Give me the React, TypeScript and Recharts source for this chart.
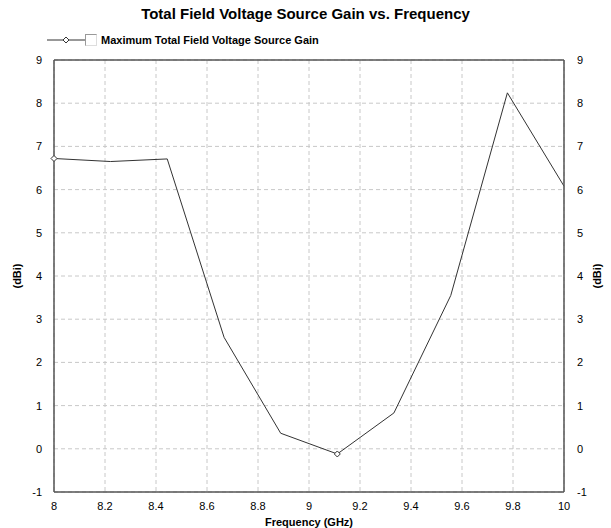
import { CartesianGrid, Line, LineChart, ReferenceLine, XAxis, YAxis } from "recharts";

const frequencies = [8, 8.222, 8.444, 8.667, 8.889, 9.111, 9.333, 9.556, 9.778, 10];
const gains = [6.72, 6.65, 6.71, 2.58, 0.36, -0.12, 0.83, 3.55, 8.24, 6.08];
const xTicks = [8, 8.2, 8.4, 8.6, 8.8, 9, 9.2, 9.4, 9.6, 9.8, 10];
const yTicks = [-1, 0, 1, 2, 3, 4, 5, 6, 7, 8, 9];
const markedPoints = [0, 5];

const data = frequencies.map((f, i) => ({ freq: f, gain: gains[i] }));

const font = "'Liberation Sans', Arial, sans-serif";
const tickStyle = { fontSize: 11, fill: "#000", fontFamily: font };
const frame = { stroke: "#555", strokeWidth: 1.5 };

const Diamond = ({ cx, cy }: { cx: number; cy: number }) => (
  <path
    d={`M${cx},${cy - 3}L${cx + 3},${cy}L${cx},${cy + 3}L${cx - 3},${cy}Z`}
    fill="#fff"
    stroke="#333"
    strokeWidth={1}
  />
);

const renderDot = (props: any) => {
  const { cx, cy, index } = props;
  if (!markedPoints.includes(index)) return <g key={index} />;
  return <Diamond key={index} cx={cx} cy={cy} />;
};

const ChartLegend = () => (
  <div
    style={{
      position: "absolute",
      top: 33,
      left: 47,
      display: "flex",
      alignItems: "center",
      fontFamily: font,
      fontSize: 11,
      fontWeight: "bold",
    }}
  >
    <svg width={40} height={14}>
      <line x1={0} y1={7} x2={38} y2={7} stroke="#333" strokeWidth={1} />
      <Diamond cx={19} cy={7} />
    </svg>
    <span
      style={{
        display: "inline-block",
        width: 10,
        height: 10,
        border: "1px solid #999",
        borderRight: "1px solid #ddd",
        borderBottom: "1px solid #ddd",
        marginRight: 4,
        marginLeft: -2,
      }}
    />
    <span>Maximum Total Field Voltage Source Gain</span>
  </div>
);

const YLabel = ({ x }: { x: number }) => (props: any) => {
  const vb = props.viewBox;
  const cy = vb.y + vb.height / 2;
  return (
    <text
      x={x}
      y={cy}
      transform={`rotate(-90 ${x} ${cy})`}
      textAnchor="middle"
      dominantBaseline="central"
      style={{ fontSize: 11, fontWeight: "bold", fontFamily: font, fill: "#000" }}
    >
      (dBi)
    </text>
  );
};

export default function App() {
  return (
    <div style={{ position: "absolute", left: 0, top: 0, width: 611, height: 528, background: "#fff" }}>
      <div
        style={{
          position: "absolute",
          top: 5,
          left: 0,
          width: 611,
          textAlign: "center",
          fontFamily: font,
          fontSize: 15,
          fontWeight: "bold",
        }}
      >
        Total Field Voltage Source Gain vs. Frequency
      </div>
      <ChartLegend />
      <LineChart width={611} height={528} data={data} margin={{ top: 60, right: 0, bottom: 0, left: 0 }}>
        <CartesianGrid yAxisId="left" stroke="#c8c8c8" strokeDasharray="4 3" />
        <XAxis
          dataKey="freq"
          type="number"
          domain={[8, 10]}
          ticks={xTicks}
          tickLine={false}
          axisLine={frame}
          tick={tickStyle}
          tickMargin={4}
          height={36}
          label={{
            value: "Frequency (GHz)",
            position: "insideBottom",
            offset: 2,
            style: { fontSize: 11, fontWeight: "bold", fontFamily: font, fill: "#000" },
          }}
        />
        <YAxis
          yAxisId="left"
          domain={[-1, 9]}
          ticks={yTicks}
          tickLine={false}
          axisLine={frame}
          tick={tickStyle}
          tickMargin={6}
          width={54}
          label={{ content: YLabel({ x: 17 }) }}
        />
        <YAxis
          yAxisId="right"
          orientation="right"
          domain={[-1, 9]}
          ticks={yTicks}
          tickLine={false}
          axisLine={frame}
          tick={tickStyle}
          tickMargin={7}
          width={47}
          label={{ content: YLabel({ x: 597 }) }}
        />
        <ReferenceLine yAxisId="left" y={9} stroke="#555" strokeWidth={1.5} />
        <Line
          yAxisId="left"
          type="linear"
          dataKey="gain"
          stroke="#333"
          strokeWidth={1}
          dot={renderDot}
          activeDot={false}
          isAnimationActive={false}
        />
        <Line
          yAxisId="right"
          type="linear"
          dataKey="gain"
          stroke="none"
          dot={false}
          activeDot={false}
          legendType="none"
          isAnimationActive={false}
        />
      </LineChart>
    </div>
  );
}
